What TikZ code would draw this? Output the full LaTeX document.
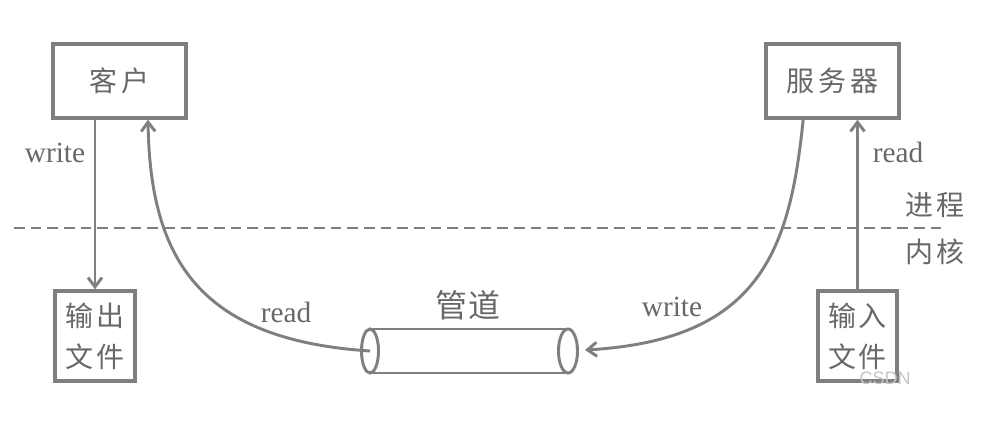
\documentclass[tikz,border=0pt]{standalone}
\usepackage{fontspec}
\setmainfont{Liberation Serif}
\newfontfamily\cjkfont{Noto Sans CJK SC}
\newfontfamily\wmfont{Liberation Sans}
\usetikzlibrary{arrows.meta}
\definecolor{ln}{HTML}{7F7F7F}
\definecolor{tx}{HTML}{686868}
\begin{document}
\begin{tikzpicture}[x=0.75pt,y=-0.75pt,
  box/.style={draw=ln,line width=2.5pt,inner sep=0pt,text=tx,font=\cjkfont\fontsize{21pt}{31pt}\selectfont,align=center},
  conn/.style={draw=ln,line width=2.2pt,-{Straight Barb[length=7pt,width=10.5pt,line width=2.2pt]}},
  lbl/.style={text=tx,font=\fontsize{22pt}{25pt}\selectfont,inner sep=0pt},
  clbl/.style={text=tx,font=\cjkfont\fontsize{21pt}{25pt}\selectfont,inner sep=0pt},
  pipeline/.style={draw=ln,line width=2.2pt}]
\useasboundingbox (0,0) rectangle (982,434);
\fill[white] (0,0) rectangle (982,434);
% boxes
\node[box,minimum width=99.75pt,minimum height=55.5pt] (ke) at (119.5,81) {客\kern3pt户};
\node[box,minimum width=60pt,minimum height=67.5pt] (out) at (95,336) {输\kern2pt出\\文\kern2pt件};
\node[box,minimum width=99.75pt,minimum height=55.5pt] (srv) at (832.5,81) {服\kern3pt务\kern3pt器};
\node[box,minimum width=59.25pt,minimum height=67.5pt] (in) at (857.5,336) {输\kern2pt入\\文\kern2pt件};
% dashed boundary
\coordinate (dl) at (14,228);
\coordinate (dr) at (947,228);
\draw[draw=ln,line width=2.2pt,dash pattern=on 8pt off 4.5pt] (dl) -- (dr);
\node[clbl] (proc) at (935,205) {进\kern2pt程};
\node[clbl] (kern) at (935,252) {内\kern2pt核};
% pipe
\node[inner sep=0pt,minimum width=148.5pt,minimum height=33pt] (pipe) at (469,351) {};
\coordinate (pL) at (370,351);
\coordinate (pR) at (568,351);
\draw[pipeline] (370,329) -- (568,329);
\draw[pipeline] (370,373) -- (568,373);
\draw[pipeline,fill=white] (pL) ellipse [x radius=8.5,y radius=22];
\draw[pipeline,fill=white] (pR) ellipse [x radius=9.5,y radius=22];
\node[clbl,font=\cjkfont\fontsize{24pt}{28pt}\selectfont] (pipelbl) at (468,305) {管\kern1pt道};
% connectors
\draw[conn] (ke.south -| out.north) -- (out.north);
\draw[conn] (in.north) -- (srv.south -| in.north);
\draw[conn] (pL) .. controls (200,340) and (150,260) .. ([xshift=21.4pt]ke.south);
\draw[conn] ([xshift=-22pt]srv.south) .. controls (790,250) and (760,340) .. (585,350);
% labels
\node[lbl] (w1) at (55,153) {write};
\node[lbl] (r1) at (286,312) {read};
\node[lbl] (w2) at (672,307) {write};
\node[lbl] (r2) at (898,152) {read};
\node[text=ln!45,font=\wmfont\fontsize{13.5pt}{15pt}\selectfont,inner sep=0pt] (wm) at (885,378) {CSDN};
\end{tikzpicture}
\end{document}
